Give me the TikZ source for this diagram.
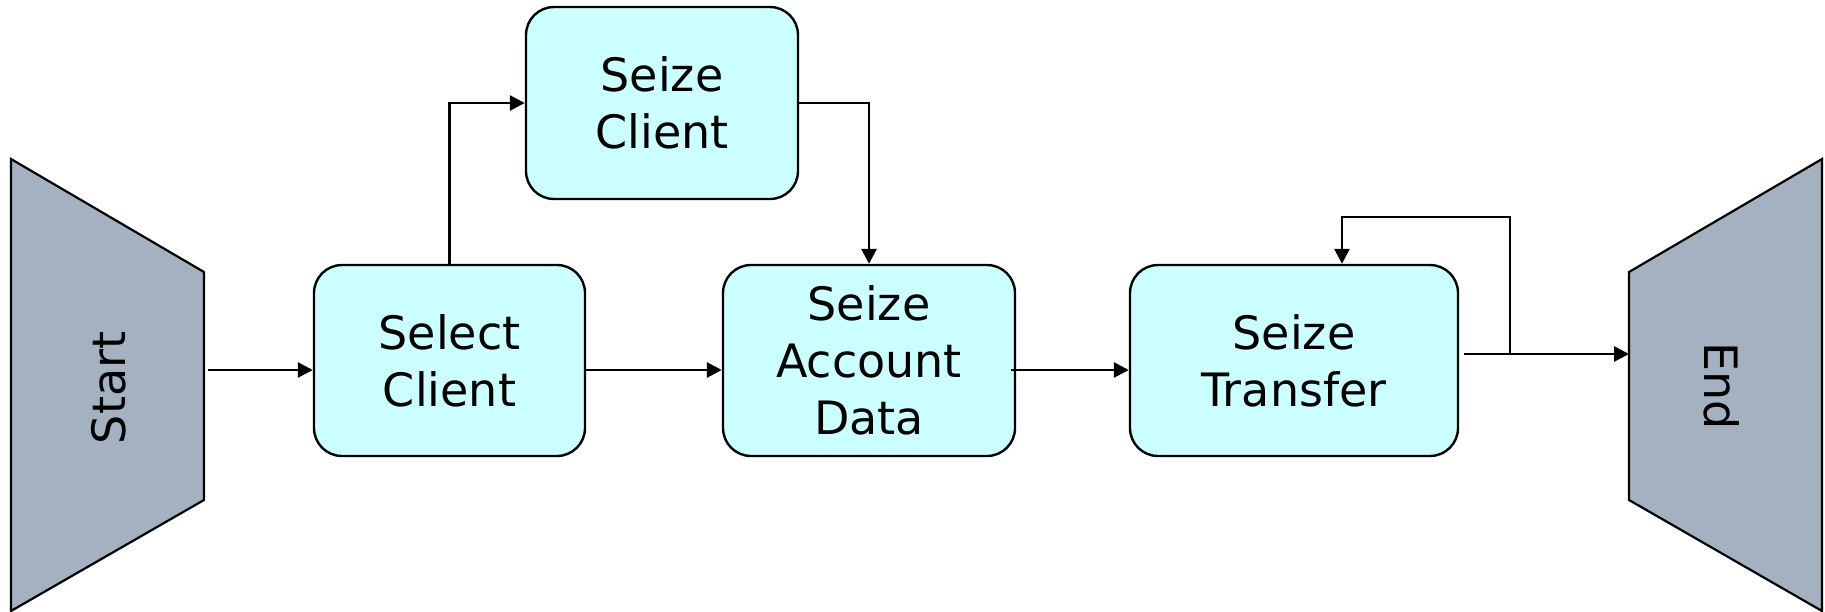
\documentclass[tikz,border=0pt]{standalone}
\usepackage{fontspec}
\setmainfont{DejaVu Sans}
\usetikzlibrary{arrows.meta}
\definecolor{boxfill}{HTML}{CCFFFF}
\definecolor{termfill}{HTML}{A3B1C0}
\tikzset{
  stepbox/.style={draw=black, line width=2.4pt, fill=boxfill, rounded corners=28pt,
    inner sep=0pt, align=center, font=\fontsize{46}{57}\selectfont},
  termshape/.style={draw=black, line width=2.2pt, fill=termfill, line join=miter},
  termtext/.style={inner sep=0pt, font=\fontsize{46}{57}\selectfont},
  arr/.style={draw=black, line width=2.8pt, -{Triangle[length=15pt,width=15pt]}}
}
\begin{document}
\begin{tikzpicture}[x=1pt,y=-1pt]
\useasboundingbox (0,0) rectangle (1825,611);

% terminals
\draw[termshape] (11,159) -- (204,272) -- (204,500) -- (11,611) -- cycle;
\node[termtext, rotate=90] (start) at (109,388) {Start};
\draw[termshape] (1629,272) -- (1822,159) -- (1822,611) -- (1629,500) -- cycle;
\node[termtext, rotate=-90] (end) at (1722,386) {End};

% process steps
\node[stepbox, minimum width=271pt, minimum height=191pt] (sel) at (449.5,360.5) {Select\\Client};
\node[stepbox, minimum width=272pt, minimum height=192pt] (szc) at (662,103) {Seize\\Client};
\node[stepbox, minimum width=292pt, minimum height=191pt] (sad) at (869,360.5) {Seize\\Account\\Data};
\node[stepbox, minimum width=328pt, minimum height=191pt] (stf) at (1294,360.5) {Seize\\Transfer};

% connector end points
\coordinate (startout) at (208,370);
\coordinate (endin) at (1629,354);
\coordinate (junc) at (1510,354);
\coordinate (looptop) at (1510,217);

% connectors
\draw[arr] (startout) -- (startout -| sel.west);
\draw[arr] (sel.east |- startout) -- (sad.west |- startout);
\draw[arr] ([xshift=-5pt]sad.east |- startout) -- (stf.west |- startout);
\draw[arr] (sel.north) |- (szc.west);
\draw[arr] (szc.east) -| (sad.north);
\draw[arr] ([xshift=5pt]stf.east |- endin) -- (endin);
\draw[arr] (junc) -- (looptop) -| ([xshift=48pt]stf.north);
\end{tikzpicture}
\end{document}
